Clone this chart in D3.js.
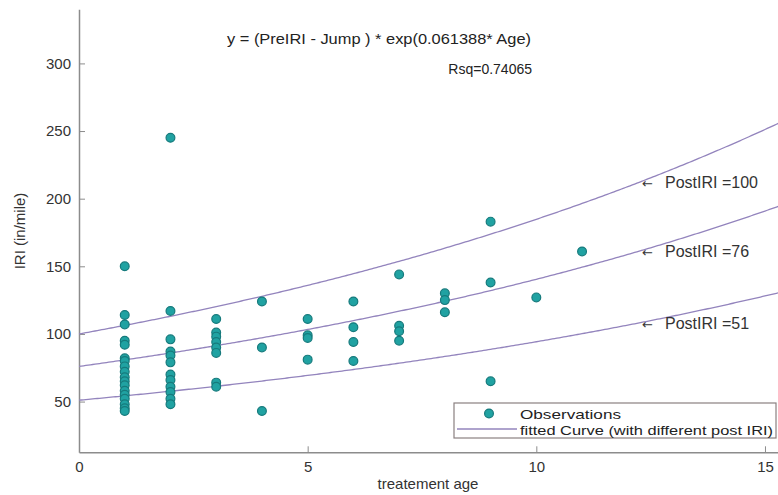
<!DOCTYPE html>
<html><head><meta charset="utf-8">
<script src="https://cdn.jsdelivr.net/npm/d3@7"></script>
<style>
html,body{margin:0;padding:0;background:#fff;}
svg{display:block;font-family:"Liberation Sans",Arial,sans-serif;}
</style></head>
<body>
<svg id="chart" width="778" height="495"></svg>
<script>
// ---- data ----
const obsAge = [
  1,1,1,1,1,1,1,1,1,1,1,1,1,1,1,1,1,1,
  2,2,2,2,2,2,2,2,2,2,2,2,
  3,3,3,3,3,3,3,3,
  4,4,4,
  5,5,5,5,
  6,6,6,6,
  7,7,7,7,
  8,8,8,
  9,9,9,
  10,
  11
];
const obsIRI = [
  150,114,107,95,92,82,80,76,72,68,65,62,58,55,52,48,45,43,
  245,117,96,87,84,79,70,66,61,57,52,48,
  111,101,98,94,90,86,64,61,
  124,90,43,
  111,99,97,81,
  124,105,94,80,
  144,106,102,95,
  130,125,116,
  183,138,65,
  127,
  161
];
const postIRI = [100, 76, 51];
const postLabels = ["PostIRI =100", "PostIRI =76", "PostIRI =51"];
const rateK = 0.061388;
const xTicks = [0, 5, 10, 15];
const yTicks = [50, 100, 150, 200, 250, 300];
const formulaText = "y = (PreIRI - Jump ) * exp(0.061388* Age)";
const rsqText = "Rsq=0.74065";
const legendLabels = ["Observations", "fitted Curve (with different post IRI)"];

// ---- layout ----
const svg = d3.select("#chart");
const x = d3.scaleLinear().domain([0, 15.3]).range([79, 778.7]);
const y = d3.scaleLinear().domain([12.5, 340]).range([452.3, 9.3]);
const axisColor = "#8c8c8c", textColor = "#333";
const curveColor = "#9384bd";
const ptFill = "#20a2a2", ptStroke = "#167a7c";

// axes
const yAxis = d3.axisLeft(y).tickValues(yTicks).tickSizeInner(-6).tickSizeOuter(0).tickPadding(8);
const xAxis = d3.axisBottom(x).tickValues(xTicks).tickSizeInner(-6).tickSizeOuter(0).tickPadding(9);
const gy = svg.append("g").attr("transform", `translate(${x(0)},0)`).call(yAxis);
const gx = svg.append("g").attr("transform", `translate(0,${y.range()[0]})`).call(xAxis);
[gx, gy].forEach(g => {
  g.select(".domain").attr("stroke", axisColor).attr("stroke-width", 1.5);
  g.selectAll(".tick line").attr("stroke", axisColor).attr("stroke-width", 1);
  g.selectAll(".tick text").attr("fill", textColor).attr("font-size", 15)
   .attr("font-family", "Liberation Sans, Arial, sans-serif");
});
gx.selectAll(".tick").filter(d => d === 0).select("line").remove();

// axis labels
svg.append("text").attr("x", 428).attr("y", 489).attr("text-anchor", "middle")
  .attr("font-size", 15).attr("fill", textColor).text("treatement age");
svg.append("text").attr("transform", "translate(25,231) rotate(-90)").attr("text-anchor", "middle")
  .attr("font-size", 15).attr("fill", textColor).text("IRI (in/mile)");

// fitted curves (from the stated model)
const curveAges = d3.range(0, 15.31, 0.05);
const line = d3.line().x(d => x(d[0])).y(d => y(d[1]));
postIRI.forEach(p => {
  svg.append("path")
    .attr("d", line(curveAges.map(a => [a, p * Math.exp(rateK * a)])))
    .attr("fill", "none").attr("stroke", curveColor).attr("stroke-width", 1.3);
});

// observations
const obs = obsAge.map((a, i) => ({age: a, iri: obsIRI[i]}));
svg.append("g").selectAll("circle").data(obs).join("circle")
  .attr("cx", d => x(d.age)).attr("cy", d => y(d.iri)).attr("r", 4.4)
  .attr("fill", ptFill).attr("stroke", ptStroke).attr("stroke-width", 1.2);

// curve annotations
const annY = [187.5, 256.5, 328.5];
postLabels.forEach((t, i) => {
  const tx = svg.append("text").attr("x", 642).attr("y", annY[i])
    .attr("font-size", 16).attr("fill", textColor);
  tx.append("tspan").attr("font-size", 13).attr("font-family", "DejaVu Sans").text("\u2190");
  tx.append("tspan").attr("x", 665).text(t);
});

// formula text
svg.append("text").attr("x", 227).attr("y", 44).attr("font-size", 15).attr("fill", "#222")
  .attr("textLength", 304).attr("lengthAdjust", "spacingAndGlyphs").text(formulaText);
svg.append("text").attr("x", 532).attr("y", 74).attr("text-anchor", "end")
  .attr("font-size", 14).attr("fill", "#222").text(rsqText);

// legend
const lg = svg.append("g");
lg.append("rect").attr("x", 454).attr("y", 403).attr("width", 322).attr("height", 35)
  .attr("fill", "#fff").attr("stroke", "#8a8080").attr("stroke-width", 1.2);
lg.append("circle").attr("cx", 489).attr("cy", 413.5).attr("r", 4.4)
  .attr("fill", ptFill).attr("stroke", ptStroke).attr("stroke-width", 1.2);
lg.append("line").attr("x1", 457).attr("x2", 517).attr("y1", 429).attr("y2", 429)
  .attr("stroke", curveColor).attr("stroke-width", 1.3);
lg.append("text").attr("x", 520).attr("y", 419).attr("font-size", 13.5).attr("fill", "#222")
  .attr("textLength", 101).attr("lengthAdjust", "spacingAndGlyphs").text(legendLabels[0]);
lg.append("text").attr("x", 520).attr("y", 435).attr("font-size", 13.5).attr("fill", "#222")
  .attr("textLength", 253).attr("lengthAdjust", "spacingAndGlyphs").text(legendLabels[1]);
</script>
</body></html>
